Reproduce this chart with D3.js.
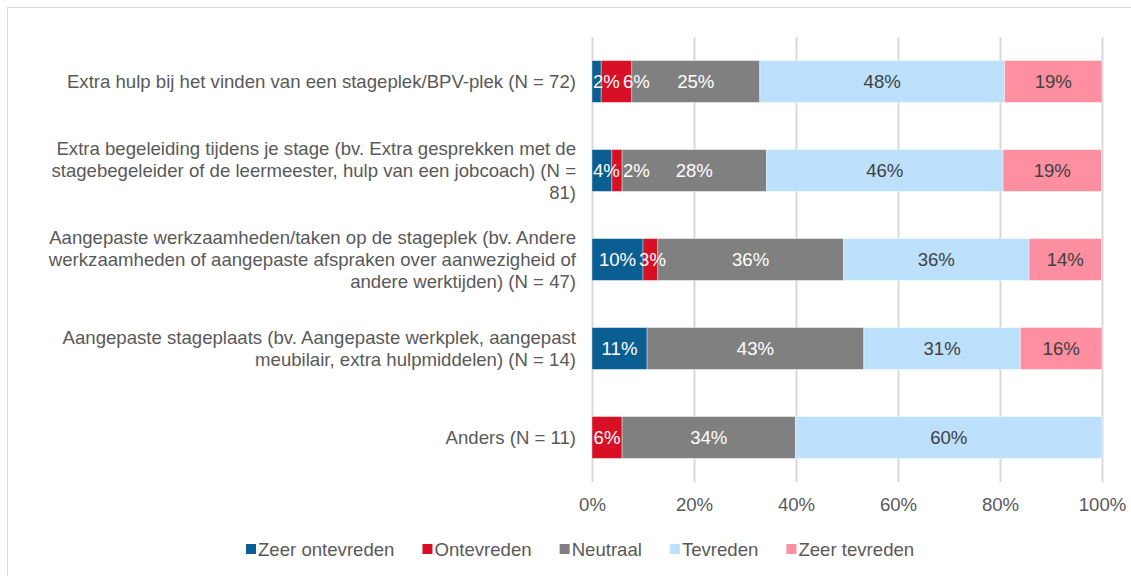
<!DOCTYPE html>
<html>
<head>
<meta charset="utf-8">
<script src="https://cdn.jsdelivr.net/npm/d3@7"></script>
<style>
  body { margin: 0; background: #fff; }
  svg text { font-family: "Liberation Sans", Arial, sans-serif; }
</style>
</head>
<body>
<script>
var w = 1131;
var h = 576;
var fs = "18.6px";

// categories, one entry per line of the wrapped label
var categories = [
  ["Extra hulp bij het vinden van een stageplek/BPV-plek (N = 72)"],
  ["Extra begeleiding tijdens je stage (bv. Extra gesprekken met de",
   "stagebegeleider of de leermeester, hulp van een jobcoach) (N =",
   "81)"],
  ["Aangepaste werkzaamheden/taken op de stageplek (bv. Andere",
   "werkzaamheden of aangepaste afspraken over aanwezigheid of",
   "andere werktijden) (N = 47)"],
  ["Aangepaste stageplaats (bv. Aangepaste werkplek, aangepast",
   "meubilair, extra hulpmiddelen) (N = 14)"],
  ["Anders (N = 11)"]
];

var seriesNames = ["Zeer ontevreden", "Ontevreden", "Neutraal", "Tevreden", "Zeer tevreden"];
var seriesColors = ["#0B5E92", "#D71026", "#808080", "#BDE1FD", "#FD8FA1"];
var labelColors = ["#fff", "#fff", "#fff", "#404040", "#404040"];

var zeerOntevreden = [1.8, 3.9, 10.0, 10.8, 0];
var ontevreden     = [6.0, 2.0, 2.9, 0, 5.9];
var neutraal       = [25.1, 28.3, 36.4, 42.5, 34.0];
var tevreden       = [48.0, 46.4, 36.4, 30.7, 60.1];
var zeerTevreden   = [19.1, 19.3, 14.2, 16.0, 0];

var tickValues = [0, 20, 40, 60, 80, 100];

var allSeries = [zeerOntevreden, ontevreden, neutraal, tevreden, zeerTevreden];
var rows = categories.map(function(c, i) {
  var r = { key: i };
  seriesNames.forEach(function(s, j) { r[s] = allSeries[j][i]; });
  return r;
});

var svg = d3.select("body").append("svg")
  .attr("width", w)
  .attr("height", h);

// outer frame
svg.append("rect")
  .attr("x", 7.5).attr("y", 7.5)
  .attr("width", w).attr("height", h)
  .attr("fill", "none")
  .attr("stroke", "#d9d9d9");

var x = d3.scaleLinear().domain([0, 100]).range([592, 1102]);
var y = d3.scaleBand().domain(d3.range(categories.length)).range([37, 482])
  .paddingInner(0.53).paddingOuter(0.265);

// grid + tick labels
var xAxis = svg.append("g")
  .attr("transform", "translate(0,482)")
  .call(d3.axisBottom(x).tickValues(tickValues).tickSize(-445).tickPadding(16)
    .tickFormat(function(d) { return d + "%"; }));
xAxis.select(".domain").remove();
xAxis.selectAll("line").attr("stroke", "#d9d9d9").attr("stroke-width", 2);
xAxis.selectAll("text").attr("fill", "#595959").attr("font-size", fs);

// category labels
var yAxis = svg.append("g")
  .attr("transform", "translate(592,0)")
  .call(d3.axisLeft(y).tickSize(0).tickPadding(16));
yAxis.select(".domain").remove();
yAxis.selectAll("text").each(function(i) {
  var t = d3.select(this);
  var lines = categories[i];
  t.text(null).attr("fill", "#595959").attr("font-size", fs).attr("dy", null);
  lines.forEach(function(l, k) {
    t.append("tspan")
      .attr("x", -16)
      .attr("dy", k === 0 ? ((-(lines.length - 1) / 2) * 1.2 + 0.35) + "em" : "1.2em")
      .text(l);
  });
});

var stack = d3.stack().keys(seriesNames)(rows);

var layers = svg.append("g").selectAll("g")
  .data(stack)
  .join("g")
  .attr("fill", function(d, j) { return seriesColors[j]; });

layers.selectAll("rect")
  .data(function(d) { return d; })
  .join("rect")
  .attr("x", function(d) { return x(d[0]); })
  .attr("y", function(d, i) { return y(i); })
  .attr("width", function(d) { return x(d[1]) - x(d[0]); })
  .attr("height", y.bandwidth())
  .attr("stroke", "#fff")
  .attr("stroke-opacity", 0.5)
  .attr("stroke-width", 0.75);

// value labels, pushed right when they would collide (like the original)
var labelG = svg.append("g");
rows.forEach(function(r, i) {
  var prevRight = x(0) + 1;
  stack.forEach(function(s, j) {
    var d = s[i];
    if (d[1] - d[0] <= 0) return;
    var t = labelG.append("text")
      .attr("y", y(i) + y.bandwidth() / 2)
      .attr("dy", "0.35em")
      .attr("font-size", fs)
      .attr("fill", labelColors[j])
      .text(Math.round(d[1] - d[0]) + "%");
    var tw = t.node().getComputedTextLength();
    var left = Math.max((x(d[0]) + x(d[1])) / 2 - tw / 2, prevRight);
    t.attr("x", left);
    prevRight = left + tw + 3;
  });
});

// legend
var legend = svg.append("g");
var lx = 246;
seriesNames.forEach(function(s, j) {
  var g = legend.append("g").attr("transform", "translate(" + lx + ",0)");
  g.append("rect").attr("x", 0).attr("y", 544).attr("width", 10).attr("height", 10)
    .attr("fill", seriesColors[j]);
  var t = g.append("text").attr("x", 12).attr("y", 549).attr("dy", "0.35em")
    .attr("font-size", fs).attr("fill", "#595959").text(s);
  lx += 12 + t.node().getComputedTextLength() + 28;
});
</script>
</body>
</html>
